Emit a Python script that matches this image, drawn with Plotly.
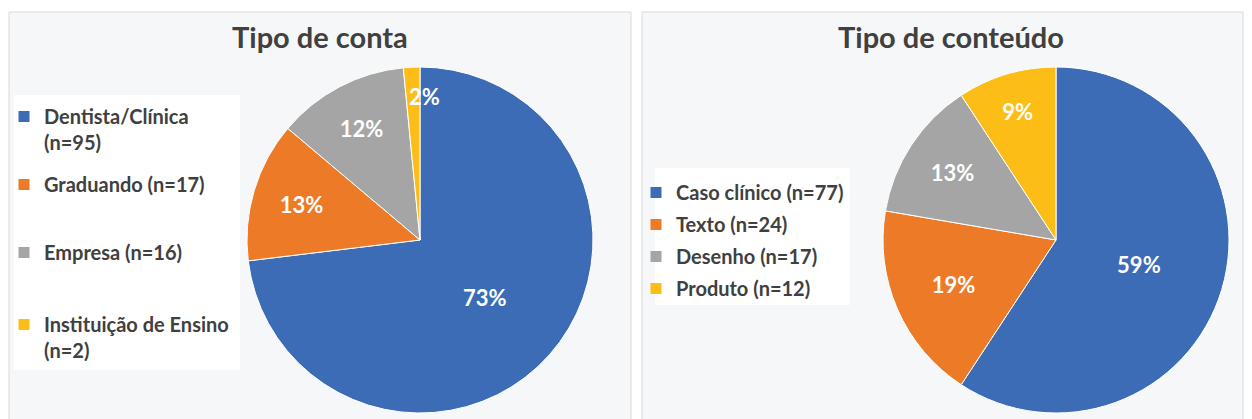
import math
import plotly.graph_objects as go

# ---- data ----
conta_labels = ["Dentista/Clínica<br>(n=95)", "Graduando (n=17)", "Empresa (n=16)", "Instituição de Ensino<br>(n=2)"]
conta_values = [95, 17, 16, 2]
conta_text = ["73%", "13%", "12%", "2%"]

conteudo_labels = ["Caso clínico (n=77)", "Texto (n=24)", "Desenho (n=17)", "Produto (n=12)"]
conteudo_values = [77, 24, 17, 12]
conteudo_text = ["59%", "19%", "13%", "9%"]

colors = ["#3C6CB5", "#EC7A27", "#A5A5A5", "#FCBE16"]
titles = ["Tipo de conta", "Tipo de conteúdo"]

W, H = 1252, 419
FONT = "Lato"
TXT = "#404040"

def px(x):
    return x / W

def py(y):
    return 1 - y / H

fig = go.Figure()

pie_common = dict(
    sort=False, direction="clockwise", rotation=0,
    marker=dict(colors=colors, line=dict(color="white", width=1)),
    textinfo="text", textposition="inside", insidetextorientation="horizontal",
    textfont=dict(family=FONT, size=22, color="white", weight="bold"),
    showlegend=False, hoverinfo="label+value",
)

left_dom = dict(x=[px(247), px(593)], y=[py(413), py(67)])
right_dom = dict(x=[px(883), px(1229)], y=[py(413), py(67)])

# tiny slices (<5%) get their label drawn separately so it is not shrunk
def split_text(values, texts):
    tot = sum(values)
    return [t if v / tot >= 0.05 else "" for v, t in zip(values, texts)]

fig.add_trace(go.Pie(labels=conta_labels, values=conta_values,
                     text=split_text(conta_values, conta_text),
                     domain=left_dom, **pie_common))
fig.add_trace(go.Pie(labels=conteudo_labels, values=conteudo_values,
                     text=split_text(conteudo_values, conteudo_text),
                     domain=right_dom, **pie_common))

annotations = []

def small_labels(values, texts, dom):
    tot = sum(values)
    cx = (dom["x"][0] + dom["x"][1]) / 2 * W
    cy = (1 - (dom["y"][0] + dom["y"][1]) / 2) * H
    r = (dom["x"][1] - dom["x"][0]) * W / 2
    cum = 0
    for v, t in zip(values, texts):
        frac = v / tot
        if frac < 0.05:
            mid = (cum + frac / 2) * 2 * math.pi
            x = cx + 0.83 * r * math.sin(mid)
            y = cy - 0.83 * r * math.cos(mid)
            annotations.append(dict(text=t, x=px(x), y=py(y), xref="paper", yref="paper",
                                    showarrow=False, xanchor="left", yanchor="middle", xshift=-6,
                                    font=dict(family=FONT, size=22, color="white", weight="bold")))
        cum += frac

small_labels(conta_values, conta_text, left_dom)
small_labels(conteudo_values, conteudo_text, right_dom)

legend_font = dict(family=FONT, size=20, color=TXT, weight="bold")
leg_common = dict(xanchor="left", yanchor="top", bgcolor="rgba(0,0,0,0)", font=legend_font,
                  valign="top", itemclick=False, itemdoubleclick=False)

# left chart legend: one legend per entry so the spacing follows the original
left_legend_names = ["legend", "legend3", "legend4", "legend5"]
left_legend_rows = [97, 165, 233, 305]   # top of each entry (px)
for i, lab in enumerate(conta_labels):
    fig.add_trace(go.Scatter(x=[None], y=[None], mode="markers", name=lab,
                             marker=dict(symbol="square", size=11, color=colors[i]),
                             legend=left_legend_names[i]))
for i, lab in enumerate(conteudo_labels):
    fig.add_trace(go.Scatter(x=[None], y=[None], mode="markers", name=lab,
                             marker=dict(symbol="square", size=11, color=colors[i]),
                             legendgroup=f"b{i}", legend="legend2"))

legends = {name: dict(x=px(4), y=py(row), **leg_common)
           for name, row in zip(left_legend_names, left_legend_rows)}
legends["legend2"] = dict(x=px(636), y=py(173), tracegroupgap=3, **leg_common)

annotations += [
    dict(text=titles[0], x=px(320), y=py(37), xref="paper", yref="paper", showarrow=False,
         xanchor="center", yanchor="middle", font=dict(family=FONT, size=29, color=TXT, weight="bold")),
    dict(text=titles[1], x=px(951), y=py(37), xref="paper", yref="paper", showarrow=False,
         xanchor="center", yanchor="middle", font=dict(family=FONT, size=29, color=TXT, weight="bold")),
]

fig.update_layout(
    width=W, height=H,
    margin=dict(l=0, r=0, t=0, b=0),
    paper_bgcolor="white", plot_bgcolor="rgba(0,0,0,0)",
    xaxis=dict(visible=False), yaxis=dict(visible=False),
    shapes=[
        dict(type="rect", xref="paper", yref="paper", x0=px(9), x1=px(631), y0=py(430), y1=py(12),
             fillcolor="#F6F7F8", line=dict(color="#D9D9D9", width=1), layer="below"),
        dict(type="rect", xref="paper", yref="paper", x0=px(642), x1=px(1243), y0=py(430), y1=py(12),
             fillcolor="#F6F7F8", line=dict(color="#D9D9D9", width=1), layer="below"),
        dict(type="rect", xref="paper", yref="paper", x0=px(14), x1=px(240), y0=py(370), y1=py(95),
             fillcolor="white", line=dict(width=0), layer="below"),
        dict(type="rect", xref="paper", yref="paper", x0=px(655), x1=px(850), y0=py(305), y1=py(168),
             fillcolor="white", line=dict(width=0), layer="below"),
    ],
    annotations=annotations,
    **legends,
)

fig.write_html("out.html", config={"displayModeBar": False},
               post_script="document.body.style.margin='0';")
